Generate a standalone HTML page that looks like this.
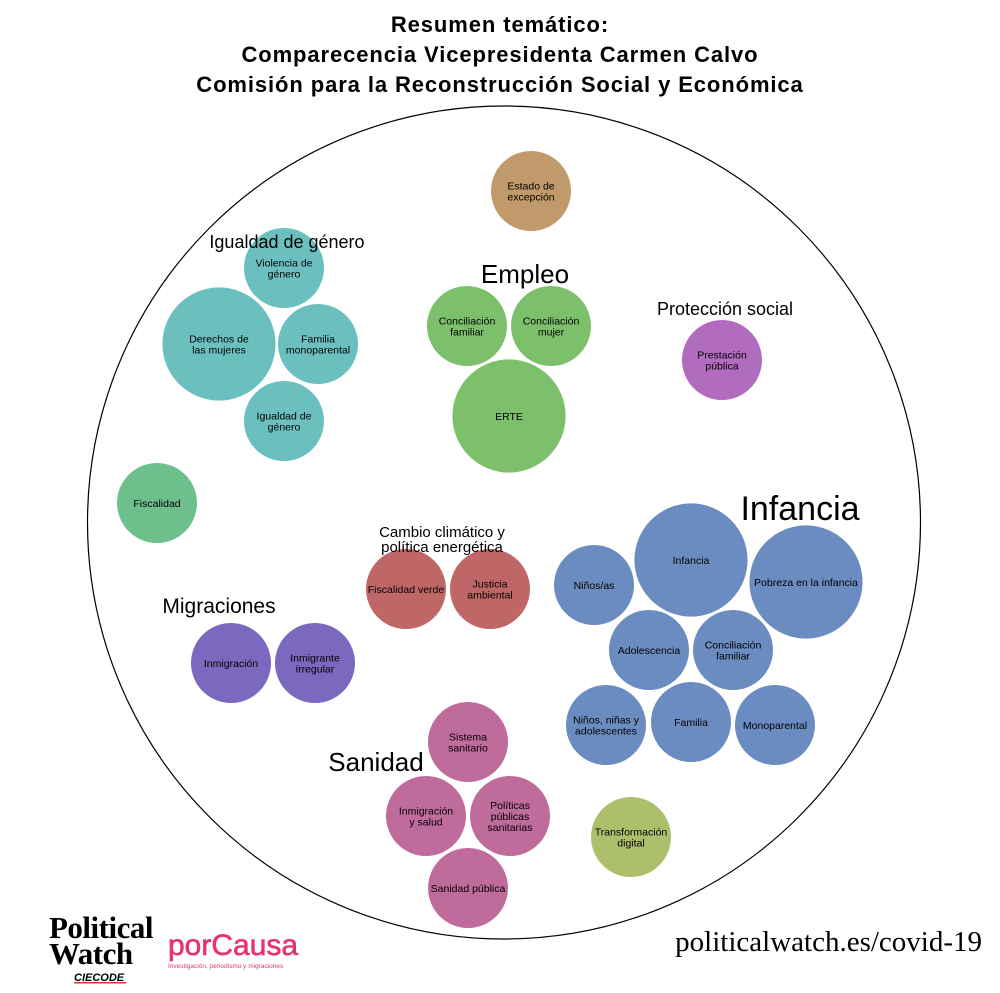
<!DOCTYPE html>
<html><head><meta charset="utf-8">
<style>
body{margin:0;background:#fff;}
svg{display:block;font-family:"Liberation Sans",sans-serif;}
</style></head>
<body>
<svg id="chart" width="1000" height="993" viewBox="0 0 1000 993">
<text x="500" y="32" text-anchor="middle" font-size="22" font-weight="bold" letter-spacing="0.9">Resumen temático:</text>
<text x="500" y="62" text-anchor="middle" font-size="22" font-weight="bold" letter-spacing="0.9">Comparecencia Vicepresidenta Carmen Calvo</text>
<text x="500" y="92" text-anchor="middle" font-size="22" font-weight="bold" letter-spacing="0.9">Comisión para la Reconstrucción Social y Económica</text>
<circle cx="504" cy="522.5" r="416.5" fill="none" stroke="#000" stroke-width="1.2"/>
<g id="bubbles"></g>
<g id="labels"></g>
<text x="49" y="938" font-family="Liberation Serif,serif" font-weight="bold" font-size="31" letter-spacing="-0.5">Political</text>
<text x="49" y="964" font-family="Liberation Serif,serif" font-weight="bold" font-size="31" letter-spacing="-0.5">Watch</text>
<text x="74" y="981" font-size="11" font-weight="bold" font-style="italic">CIECODE</text>
<rect x="74" y="982" width="52" height="1.5" fill="#d33"/>
<text x="168" y="955" font-size="30" fill="#e8336d" stroke="#e8336d" stroke-width="0.6">porCausa</text>
<text x="168" y="968" font-size="6.5" fill="#e8336d">Investigación, periodismo y migraciones</text>
<text x="982" y="951" text-anchor="end" font-family="Liberation Serif,serif" font-size="29">politicalwatch.es/covid-19</text>
</svg>
<script>
const names=["Estado de|excepción","Violencia de|género","Derechos de|las mujeres","Familia|monoparental","Igualdad de|género","Fiscalidad","Conciliación|familiar","Conciliación|mujer","ERTE","Prestación|pública","Fiscalidad verde","Justicia|ambiental","Inmigración","Inmigrante|irregular","Infancia","Pobreza en la infancia","Niños/as","Adolescencia","Conciliación|familiar","Niños, niñas y|adolescentes","Familia","Monoparental","Sistema|sanitario","Inmigración|y salud","Políticas|públicas|sanitarias","Sanidad pública","Transformación|digital"];
const values=[1,1,2,1,1,1,1,1,2,1,1,1,1,1,2,2,1,1,1,1,1,1,1,1,1,1,1];
const groups=["Estado","Igualdad","Igualdad","Igualdad","Igualdad","Fiscalidad","Empleo","Empleo","Empleo","Proteccion","Cambio","Cambio","Migraciones","Migraciones","Infancia","Infancia","Infancia","Infancia","Infancia","Infancia","Infancia","Infancia","Sanidad","Sanidad","Sanidad","Sanidad","Digital"];
const groupColors={Estado:"#c19a6b",Igualdad:"#6cbfbf",Fiscalidad:"#6dbf8c",Empleo:"#7dc06b",Proteccion:"#b16bbf",Cambio:"#bf6767",Migraciones:"#7b68bf",Infancia:"#6b8cc0",Sanidad:"#bf6b9b",Digital:"#aebf6b"};
// layout (pack positions)
const layout=[[531,191],[284,268],[219,344],[318,344],[284,421],[157,503],[467,326],[551,326],[509,416],[722,360],[406,589],[490,589],[231,663],[315,663],[691,560],[806,582],[594,585],[649,650],[733,650],[606,725],[691,722],[775,725],[468,742],[426,816],[510,816],[468,888],[631,837]];
const groupLabels=[["Igualdad de género",287,248,18],["Empleo",525,283,26],["Protección social",725,315,18],["Infancia",800,520,34],["Cambio climático y",442,537,15],["política energética",442,552,15],["Migraciones",219,613,21],["Sanidad",376,771,26]];
const NS="http://www.w3.org/2000/svg";
const rScale=v=>40*Math.sqrt(v);
const gB=document.getElementById("bubbles");
names.forEach((n,i)=>{
  const c=document.createElementNS(NS,"circle");
  
  
  c.setAttribute("cx",layout[i][0]);c.setAttribute("cy",layout[i][1]);
  c.setAttribute("r",rScale(values[i]));c.setAttribute("fill",groupColors[groups[i]]);
  gB.appendChild(c);
  const lines=n.split("|");
  const t=document.createElementNS(NS,"text");
  
  
  t.setAttribute("text-anchor","middle");t.setAttribute("font-size","10.5");
  lines.forEach((l,j)=>{
    const s=document.createElementNS(NS,"tspan");
    s.setAttribute("x",layout[i][0]);
    s.setAttribute("y",layout[i][1]+4+(j-(lines.length-1)/2)*11);
    s.textContent=l;t.appendChild(s);
  });
  gB.appendChild(t);
});
const gL=document.getElementById("labels");
groupLabels.forEach(g=>{
  const t=document.createElementNS(NS,"text");
  
  
  t.setAttribute("x",g[1]);t.setAttribute("y",g[2]);t.setAttribute("font-size",g[3]);
  t.setAttribute("text-anchor","middle");t.textContent=g[0];gL.appendChild(t);
});
</script>
</body></html>
